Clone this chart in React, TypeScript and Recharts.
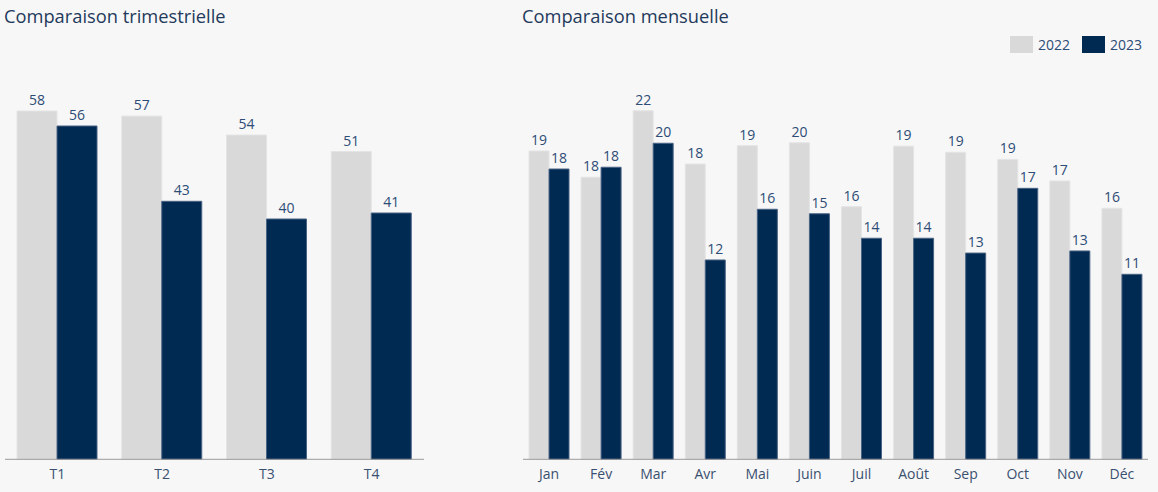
import React from 'react';
import { BarChart, Bar, XAxis, YAxis, LabelList } from 'recharts';

const quarters = ['T1', 'T2', 'T3', 'T4'];
const quarters2022 = [58.05, 57.2, 54.05, 51.3];
const quarters2023 = [55.55, 43.0, 40.05, 41.05];

const months = ['Jan', 'Fév', 'Mar', 'Avr', 'Mai', 'Juin', 'Juil', 'Août', 'Sep', 'Oct', 'Nov', 'Déc'];
const months2022 = [19.15, 17.52, 21.65, 18.34, 19.48, 19.66, 15.69, 19.45, 19.07, 18.63, 17.29, 15.59];
const months2023 = [18.03, 18.14, 19.63, 12.38, 15.53, 15.25, 13.73, 13.73, 12.81, 16.83, 12.94, 11.49];

const seriesNames = ['2022', '2023'];

const quarterData = quarters.map((q, i) => ({ name: q, a: quarters2022[i], b: quarters2023[i] }));
const monthData = months.map((m, i) => ({ name: m, a: months2022[i], b: months2023[i] }));

const FONT = '"Open Sans", "Noto Sans", sans-serif';
const C_LIGHT = '#d9d9d9';
const C_DARK = '#002a52';
const BG = '#f7f7f7';
const TEXT = '#2d4c76';
const TITLE = '#1f3a5c';

const fmt = (v: any) => Math.round(Number(v)).toString();

const labelStyle = { fill: TEXT, fontSize: 14, fontFamily: FONT };
const tickStyle = { fill: '#3a5070', fontSize: 14, fontFamily: FONT };

function Title({ text, left }: { text: string; left: number }) {
  return (
    <div
      style={{
        position: 'absolute',
        left,
        top: 1,
        fontFamily: FONT,
        fontSize: 18.3,
        color: TITLE,
        lineHeight: '30px',
        whiteSpace: 'nowrap',
      }}
    >
      {text}
    </div>
  );
}

export default function App() {
  return (
    <div style={{ position: 'fixed', left: 0, top: 0, width: 1158, height: 492, background: BG, overflow: 'hidden' }}>
      <Title text="Comparaison trimestrielle" left={4} />
      <Title text="Comparaison mensuelle" left={522} />

      <div style={{ position: 'absolute', left: 1010, top: 36, display: 'flex', alignItems: 'center', fontFamily: FONT, fontSize: 14, color: TEXT }}>
        <div style={{ width: 23, height: 17, background: C_LIGHT }} />
        <span style={{ marginLeft: 5, marginRight: 12, lineHeight: '17px' }}>{seriesNames[0]}</span>
        <div style={{ width: 23, height: 17, background: C_DARK }} />
        <span style={{ marginLeft: 5, lineHeight: '17px' }}>{seriesNames[1]}</span>
      </div>

      <div style={{ position: 'absolute', left: 0, top: 0 }}>
        <BarChart width={430} height={492} data={quarterData} margin={{ top: 99.3, right: 6, left: 5, bottom: 0 }} barGap={0}>
          <XAxis
            dataKey="name"
            height={32.7}
            tickLine={false}
            axisLine={{ stroke: '#9a9a9a', strokeWidth: 1 }}
            tick={tickStyle}
            tickMargin={4}
          />
          <YAxis hide domain={[0, 60]} />
          <Bar dataKey="a" name={seriesNames[0]} fill={C_LIGHT} barSize={40} stroke="#e4e4e4" strokeWidth={1} isAnimationActive={false}>
            <LabelList dataKey="a" position="top" offset={6} formatter={fmt} style={labelStyle} />
          </Bar>
          <Bar dataKey="b" name={seriesNames[1]} fill={C_DARK} barSize={40} stroke="#4a6384" strokeWidth={1} isAnimationActive={false}>
            <LabelList dataKey="b" position="top" offset={6} formatter={fmt} style={labelStyle} />
          </Bar>
        </BarChart>
      </div>

      <div style={{ position: 'absolute', left: 500, top: 0 }}>
        <BarChart width={658} height={492} data={monthData} margin={{ top: 72.9, right: 10, left: 23, bottom: 0 }} barGap={0}>
          <XAxis
            dataKey="name"
            height={32.7}
            tickLine={false}
            axisLine={{ stroke: '#9a9a9a', strokeWidth: 1 }}
            tick={tickStyle}
            tickMargin={4}
            interval={0}
          />
          <YAxis hide domain={[0, 24]} />
          <Bar dataKey="a" name={seriesNames[0]} fill={C_LIGHT} barSize={20} stroke="#e4e4e4" strokeWidth={1} isAnimationActive={false}>
            <LabelList dataKey="a" position="top" offset={6} formatter={fmt} style={labelStyle} />
          </Bar>
          <Bar dataKey="b" name={seriesNames[1]} fill={C_DARK} barSize={20} stroke="#4a6384" strokeWidth={1} isAnimationActive={false}>
            <LabelList dataKey="b" position="top" offset={6} formatter={fmt} style={labelStyle} />
          </Bar>
        </BarChart>
      </div>
    </div>
  );
}
